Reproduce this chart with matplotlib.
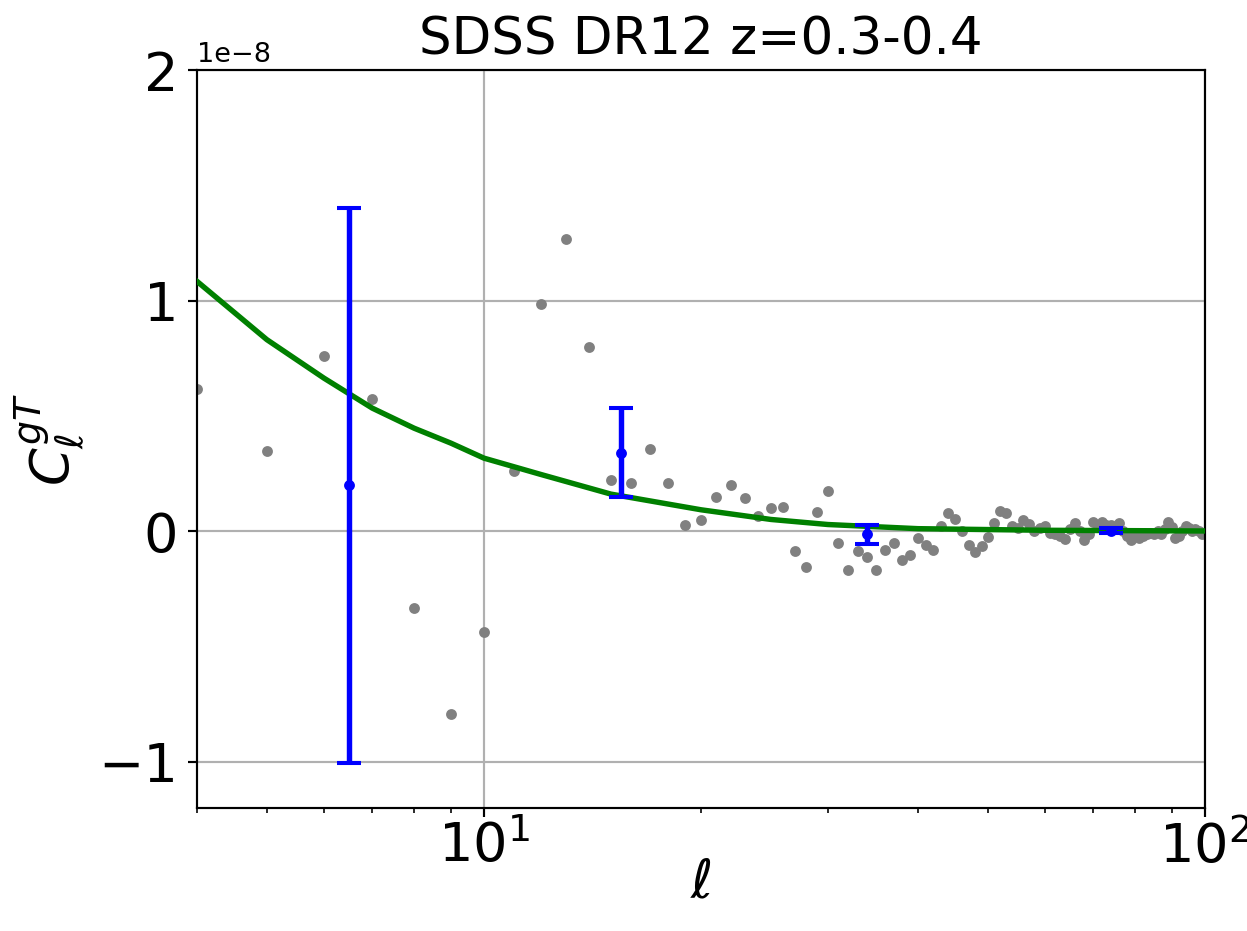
import numpy as np
import matplotlib
matplotlib.use("Agg")
import matplotlib.pyplot as plt

# -----------------------------
# data (units of 1e-8)
# -----------------------------
ell = np.arange(4, 101)
cl_gT = [
    0.62, 0.35, 0.76, 0.573, -0.334, -0.79, -0.435, 0.263, 0.985, 1.27,    # 4-13
    0.80, 0.224, 0.21, 0.357, 0.21, 0.026, 0.048, 0.148, 0.20, 0.145,      # 14-23
    0.068, 0.10, 0.104, -0.087, -0.155, 0.084, 0.177, -0.048, -0.166, -0.087,  # 24-33
    -0.113, -0.166, -0.082, -0.048, -0.126, -0.104, -0.029, -0.058, -0.08, 0.022,  # 34-43
    0.08, 0.054, 0.003, -0.058, -0.091, -0.065, -0.022, 0.036, 0.087, 0.082,  # 44-53
    0.022, 0.014, 0.051, 0.033, 0.0, 0.014, 0.025, -0.007, -0.013, -0.02,  # 54-63
    -0.033, 0.01, 0.036, 0.0, -0.036, -0.01, 0.043, 0.02, 0.043, 0.03,     # 64-73
    0.03, 0.02, 0.036, 0.0, -0.02, -0.036, -0.02, -0.029, -0.02, -0.01,    # 74-83
    -0.007, -0.01, 0.0, -0.013, 0.01, 0.043, 0.02, -0.029, -0.02, 0.0,     # 84-93
    0.022, 0.015, 0.0, 0.01, 0.0, -0.01, -0.005,                           # 94-100
]

# binned points
bin_ell = [6.5, 15.5, 34.0, 74.0]
bin_cl = [0.20, 0.342, -0.012, 0.004]
bin_err = [1.205, 0.193, 0.041, 0.010]

# theory curve
th_ell = [4, 5, 6, 7, 8, 9, 10, 12, 15, 20, 25, 30, 40, 60, 100]
th_cl = [1.085, 0.832, 0.665, 0.535, 0.448, 0.383, 0.318, 0.247, 0.162,
         0.094, 0.052, 0.03, 0.012, 0.005, 0.002]

scale = 1e-8

# -----------------------------
# plot
# -----------------------------
fig = plt.figure(figsize=(1247 / 195, 931 / 195), dpi=195)
ax = fig.add_axes([0.158, 0.1321, 0.8083, 0.7922])

ax.plot(ell, np.array(cl_gT) * scale, ".", color="gray", zorder=2)
ax.plot(th_ell, np.array(th_cl) * scale, color="green", lw=2, zorder=3)
ax.errorbar(bin_ell, np.array(bin_cl) * scale, yerr=np.array(bin_err) * scale,
            fmt=".", color="blue", elinewidth=2, capsize=4.5, capthick=1.5,
            zorder=4)

ax.set_xscale("log")
ax.set_xlim(4, 100)
ax.set_ylim(-1.2e-8, 2e-8)
ax.set_yticks([-1e-8, 0, 1e-8, 2e-8])
ax.grid(True)
ax.tick_params(labelsize=20)
ax.tick_params(axis="x", which="major", pad=1)

ax.set_xlabel(r"$\ell$", fontsize=20, labelpad=-6)
ax.set_ylabel(r"$C_\ell^{gT}$", fontsize=20)
ax.set_title("SDSS DR12 z=0.3-0.4", fontsize=19)

fig.savefig("out.png", dpi=195)
